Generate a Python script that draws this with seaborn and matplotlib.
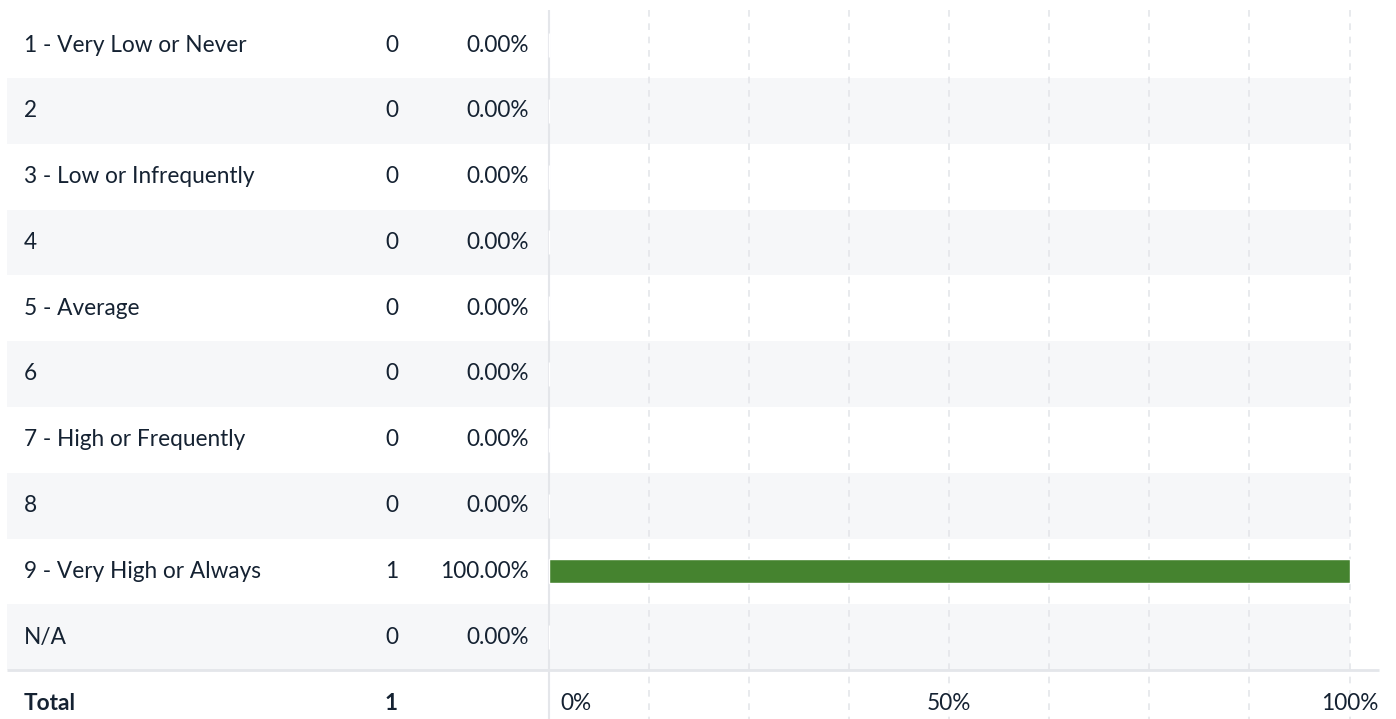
import numpy as np
import pandas as pd
import matplotlib
matplotlib.use("Agg")
import matplotlib.pyplot as plt
import seaborn as sns
from matplotlib.transforms import blended_transform_factory

answers = ["1 - Very Low or Never", "2", "3 - Low or Infrequently", "4", "5 - Average",
           "6", "7 - High or Frequently", "8", "9 - Very High or Always", "N/A"]
counts = [0, 0, 0, 0, 0, 0, 0, 0, 1, 0]
percents = [0.0, 0.0, 0.0, 0.0, 0.0, 0.0, 0.0, 0.0, 100.0, 0.0]
total_count = 1
axis_ticks = [0, 50, 100]
axis_labels = ["0%", "50%", "100%"]

TEXT = "#152232"
BAND = "#f6f7f9"
GRID = "#e4e6ea"
GREEN = "#45832f"

W, H = 1396, 719
X0, X100 = 548.5, 1349.5          # pixel positions of 0% and 100%
ROW0, ROWH = 45.0, 65.8           # first row centre, row pitch (px)

sns.set_theme(style="white")
plt.rcParams["font.family"] = ["Lato", "DejaVu Sans"]

df = pd.DataFrame({"answer": answers, "count": counts, "percent": percents})

fig = plt.figure(figsize=(W / 100, H / 100), dpi=100)
ax = fig.add_axes([0, 0, 1, 1])

scale = (X100 - X0) / 100.0
xlim = (-X0 / scale, (W - X0) / scale)
ylim = ((H - ROW0) / ROWH, -ROW0 / ROWH)

def px(xp):
    return (xp - X0) / scale

# alternating row bands
for i in range(1, len(answers), 2):
    ax.axhspan(i - 0.5, i + 0.5, xmin=7 / W, xmax=X100 / W, color=BAND, lw=0, zorder=0)

# grid lines every 12.5%
for g in np.arange(12.5, 100.1, 12.5):
    ax.vlines(g, (10 - ROW0) / ROWH, ylim[0], colors=GRID, linestyles=(0, (4, 4)), lw=1.2, zorder=1)
ax.vlines(0, (10 - ROW0) / ROWH, ylim[0], colors=GRID, lw=1.5, zorder=1)

sns.barplot(data=df, x="percent", y="answer", orient="h", color=GREEN,
            width=24 / ROWH, saturation=1, ax=ax, zorder=2)

# separator above total
ax.hlines(len(answers) - 0.5, px(7), px(1379), colors=GRID, lw=2, zorder=1)

tr = blended_transform_factory(fig.transFigure, ax.transData)
fs = 16.3
for i, (a, c, p) in enumerate(zip(answers, counts, percents)):
    ax.text(24 / W, i, a, transform=tr, ha="left", va="center", fontsize=fs, color=TEXT)
    ax.text(391.5 / W, i, str(c), transform=tr, ha="center", va="center", fontsize=fs, color=TEXT)
    ax.text(529 / W, i, f"{p:.2f}%", transform=tr, ha="right", va="center", fontsize=fs, color=TEXT)

n = len(answers)
ax.text(24 / W, n, "Total", transform=tr, ha="left", va="center", fontsize=fs, color=TEXT, fontweight="bold")
ax.text(391.5 / W, n, str(total_count), transform=tr, ha="center", va="center", fontsize=fs,
        color=TEXT, fontweight="bold")

for t, lab in zip(axis_ticks, axis_labels):
    if t == 0:
        ax.text(px(560), n, lab, ha="left", va="center", fontsize=fs, color=TEXT)
    else:
        ax.text(t, n, lab, ha="center", va="center", fontsize=fs, color=TEXT)

ax.set_xlim(*xlim)
ax.set_ylim(*ylim)
ax.axis("off")

fig.savefig("out.png", dpi=100)
